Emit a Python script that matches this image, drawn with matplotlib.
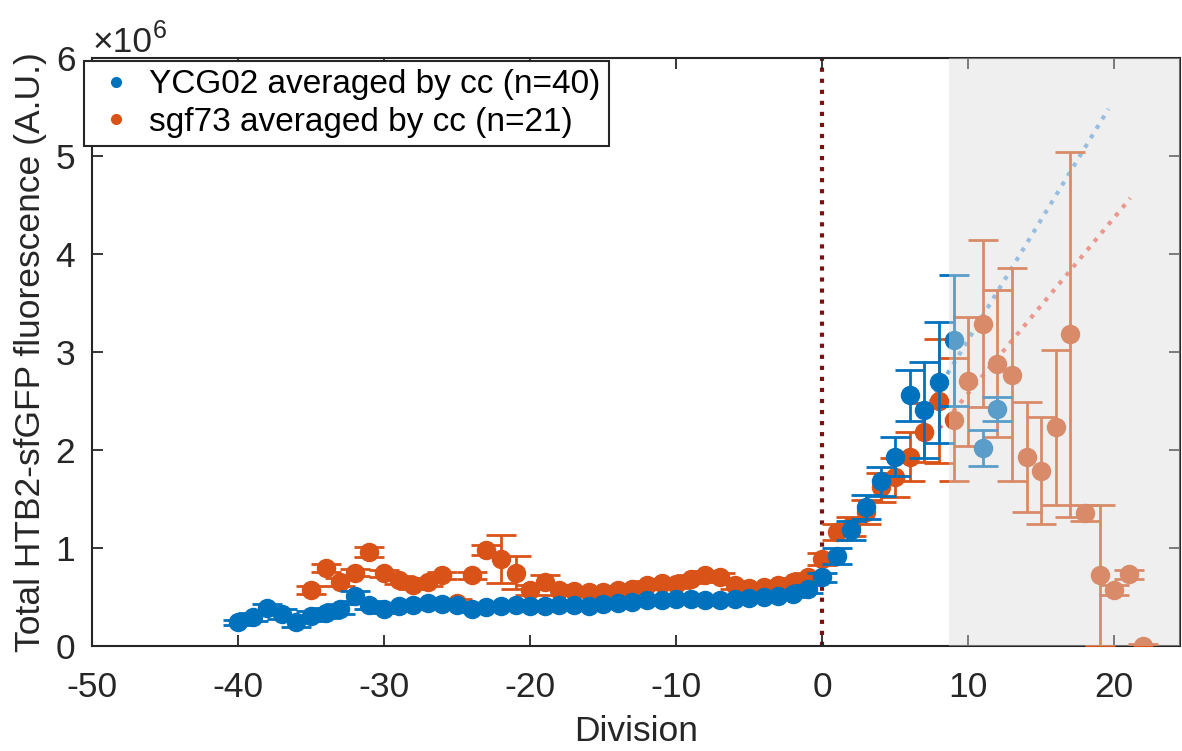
import numpy as np
import matplotlib
matplotlib.use('Agg')
import matplotlib.pyplot as plt

plt.rcParams['font.family'] = ['Liberation Sans', 'DejaVu Sans']
plt.rcParams['axes.unicode_minus'] = False

# YCG02 averaged by cell cycle
ycg_div = list(range(-40, 10)) + [11, 12]
ycg_val = [0.24, 0.30, 0.39, 0.33, 0.25, 0.31, 0.34, 0.38, 0.51, 0.42,
           0.38, 0.41, 0.42, 0.44, 0.43, 0.42, 0.38, 0.40, 0.41, 0.42,
           0.41, 0.41, 0.42, 0.42, 0.41, 0.43, 0.44, 0.45, 0.47, 0.47,
           0.48, 0.48, 0.47, 0.47, 0.48, 0.49, 0.50, 0.51, 0.53, 0.58,
           0.70, 0.92, 1.18, 1.42, 1.68, 1.93, 2.56, 2.41, 2.69, 3.12,
           2.02, 2.42]
ycg_err = [0.03, 0.04, 0.04, 0.05, 0.06, 0.05, 0.05, 0.05, 0.05, 0.04,
           0.04, 0.03, 0.03, 0.03, 0.03, 0.03, 0.03, 0.03, 0.03, 0.03,
           0.03, 0.03, 0.03, 0.03, 0.03, 0.03, 0.03, 0.03, 0.03, 0.03,
           0.03, 0.03, 0.03, 0.03, 0.03, 0.03, 0.03, 0.03, 0.03, 0.04,
           0.05, 0.08, 0.10, 0.12, 0.15, 0.20, 0.26, 0.49, 0.62, 0.67,
           0.18, 0.12]

# sgf73 averaged by cell cycle
sgf_div = list(range(-35, 23))
sgf_val = [0.57, 0.80, 0.65, 0.75, 0.96, 0.74, 0.67, 0.62, 0.65, 0.72,
           0.44, 0.72, 0.98, 0.89, 0.75, 0.57, 0.65, 0.57, 0.56, 0.55,
           0.55, 0.57, 0.58, 0.62, 0.64, 0.63, 0.68, 0.72, 0.70, 0.62,
           0.59, 0.60, 0.62, 0.65, 0.70,
           0.89, 1.16, 1.22, 1.37, 1.62, 1.72, 1.93, 2.18, 2.50, 2.31,
           2.70, 3.29, 2.88, 2.77, 1.93, 1.79, 2.23, 3.18, 1.36, 0.72,
           0.57, 0.73, 0.00]
sgf_err = [0.04, 0.04, 0.04, 0.04, 0.05, 0.04, 0.04, 0.04, 0.04, 0.04,
           0.04, 0.04, 0.05, 0.245, 0.17, 0.05, 0.07, 0.05, 0.04, 0.04,
           0.04, 0.04, 0.04, 0.04, 0.04, 0.04, 0.04, 0.05, 0.05, 0.04,
           0.04, 0.04, 0.04, 0.04, 0.05,
           0.06, 0.08, 0.10, 0.12, 0.15, 0.20, 0.25, 0.30, 0.63, 0.63,
           0.66, 0.85, 0.75, 1.09, 0.56, 0.55, 0.79, 1.86, 0.08, 0.72,
           0.05, 0.05, 0.02]

# extrapolated fits
ycg_fit_x = [7.0, 19.6]
ycg_fit_y = [2.39, 5.48]
sgf_fit_x = [8.0, 21.1]
sgf_fit_y = [2.22, 4.57]

shade_start = 8.7
scale = 1e6

blue = '#0072BD'
orange = '#D95319'
txt = '#262626'

fig = plt.figure(figsize=(11.82, 7.51), dpi=100)
ax = fig.add_axes([92 / 1182, 105 / 751, 1088 / 1182, 588 / 751])

ax.axvline(0, color='#7a1010', linestyle=':', linewidth=3, zorder=1)

ax.plot(ycg_fit_x, np.array(ycg_fit_y) * scale, ':', color='#69ACE6', lw=3, zorder=2)
ax.plot(sgf_fit_x, np.array(sgf_fit_y) * scale, ':', color='#F76958', lw=3, zorder=2)

ax.errorbar(sgf_div, np.array(sgf_val) * scale, yerr=np.array(sgf_err) * scale,
            fmt='o', color=orange, ms=13, mec=orange, elinewidth=2,
            capsize=11, capthick=2, zorder=3)
ax.errorbar(ycg_div, np.array(ycg_val) * scale, yerr=np.array(ycg_err) * scale,
            fmt='o', color=blue, ms=13, mec=blue, elinewidth=2,
            capsize=11, capthick=2, zorder=4)

# shaded (faded) region on top of the data
ax.axvspan(shade_start, 30, color='#d9d9d9', alpha=0.42, lw=0, zorder=5)

# legend proxies
ax.plot([], [], 'o', color=blue, ms=7, label='YCG02 averaged by cc (n=40)')
ax.plot([], [], 'o', color=orange, ms=7, label='sgf73 averaged by cc (n=21)')
leg = ax.legend(loc='upper left', bbox_to_anchor=(-0.007, 0.995), fontsize=24,
                frameon=True, fancybox=False, edgecolor=txt, framealpha=1,
                handletextpad=0.3, handlelength=1.4, borderpad=0.25,
                labelspacing=0.2, borderaxespad=0)
leg.get_frame().set_linewidth(1.5)
leg.set_zorder(10)

ax.set_xlim(-50, 24.5)
ax.set_ylim(0, 6 * scale)
ax.set_xticks(range(-50, 21, 10))
ax.set_yticks(np.arange(0, 7) * scale)
ax.set_yticklabels([str(i) for i in range(7)])
ax.tick_params(direction='in', length=8, width=1.3, colors=txt,
               labelsize=25.5, top=True, right=True)
ax.tick_params(axis='x', pad=18)
ax.tick_params(axis='y', pad=12)
for s in ax.spines.values():
    s.set_color(txt)
    s.set_linewidth(1.5)

ax.set_xlabel('Division', fontsize=25.5, color=txt, labelpad=8)
ax.set_ylabel('Total HTB2-sfGFP fluorescence (A.U.)', fontsize=25.5, color=txt, labelpad=6)

fig.text(93 / 1182, 1 - 52 / 751, '\u00d710', fontsize=25.5, color=txt, ha='left', va='baseline')
fig.text(153 / 1182, 1 - 38 / 751, '6', fontsize=18, color=txt, ha='left', va='baseline')

fig.savefig('out.png', dpi=100)
